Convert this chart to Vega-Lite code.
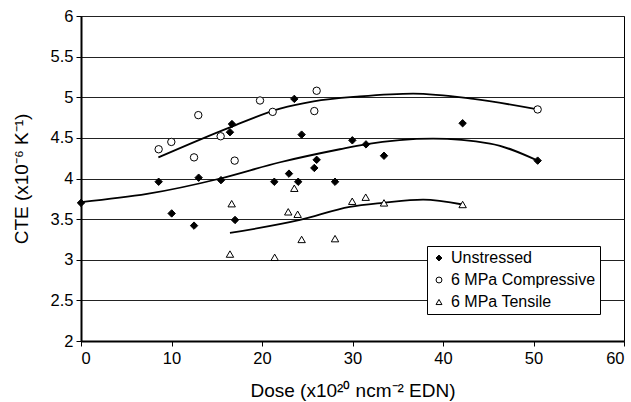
{
  "$schema": "https://vega.github.io/schema/vega-lite/v6.json",
  "width": 543,
  "height": 325,
  "autosize": "none",
  "padding": {"left": 81, "top": 16, "right": 7, "bottom": 61},
  "background": "white",
  "config": {
    "font": "Liberation Sans",
    "view": {"stroke": "black", "strokeWidth": 1}
  },
  "layer": [
    {
      "data": {"values": [
        {"series": "Unstressed", "x": 0, "y": 3.71},
        {"series": "Unstressed", "x": 7.3, "y": 3.81},
        {"series": "Unstressed", "x": 15.4, "y": 4.0},
        {"series": "Unstressed", "x": 22.0, "y": 4.2},
        {"series": "Unstressed", "x": 28.6, "y": 4.36},
        {"series": "Unstressed", "x": 31.4, "y": 4.42},
        {"series": "Unstressed", "x": 38.9, "y": 4.49},
        {"series": "Unstressed", "x": 45.2, "y": 4.43},
        {"series": "Unstressed", "x": 50.46, "y": 4.22},
        {"series": "6 MPa Compressive", "x": 8.55, "y": 4.26},
        {"series": "6 MPa Compressive", "x": 16.46, "y": 4.63},
        {"series": "6 MPa Compressive", "x": 22.0, "y": 4.86},
        {"series": "6 MPa Compressive", "x": 25.7, "y": 4.95},
        {"series": "6 MPa Compressive", "x": 30.8, "y": 5.01},
        {"series": "6 MPa Compressive", "x": 36.7, "y": 5.045},
        {"series": "6 MPa Compressive", "x": 43.35, "y": 4.98},
        {"series": "6 MPa Compressive", "x": 50.46, "y": 4.85},
        {"series": "6 MPa Tensile", "x": 16.46, "y": 3.33},
        {"series": "6 MPa Tensile", "x": 24.2, "y": 3.49},
        {"series": "6 MPa Tensile", "x": 29.7, "y": 3.65},
        {"series": "6 MPa Tensile", "x": 33.4, "y": 3.7},
        {"series": "6 MPa Tensile", "x": 37.8, "y": 3.74},
        {"series": "6 MPa Tensile", "x": 42.17, "y": 3.68}
      ]},
      "mark": {"type": "line", "interpolate": "monotone", "color": "black", "strokeWidth": 1.8},
      "encoding": {
        "x": {"field": "x", "type": "quantitative"},
        "y": {"field": "y", "type": "quantitative"},
        "detail": {"field": "series"}
      }
    },
    {
      "data": {"values": [
        {"series": "Unstressed", "x": 0, "y": 3.7},
        {"series": "Unstressed", "x": 8.58, "y": 3.96},
        {"series": "Unstressed", "x": 10.02, "y": 3.57},
        {"series": "Unstressed", "x": 12.49, "y": 3.42},
        {"series": "Unstressed", "x": 13.0, "y": 4.01},
        {"series": "Unstressed", "x": 15.47, "y": 3.98},
        {"series": "Unstressed", "x": 16.46, "y": 4.57},
        {"series": "Unstressed", "x": 16.68, "y": 4.67},
        {"series": "Unstressed", "x": 17.02, "y": 3.49},
        {"series": "Unstressed", "x": 21.36, "y": 3.96},
        {"series": "Unstressed", "x": 22.98, "y": 4.06},
        {"series": "Unstressed", "x": 23.57, "y": 4.98},
        {"series": "Unstressed", "x": 24.0, "y": 3.96},
        {"series": "Unstressed", "x": 24.38, "y": 4.54},
        {"series": "Unstressed", "x": 25.78, "y": 4.13},
        {"series": "Unstressed", "x": 26.04, "y": 4.23},
        {"series": "Unstressed", "x": 28.07, "y": 3.96},
        {"series": "Unstressed", "x": 29.98, "y": 4.47},
        {"series": "Unstressed", "x": 31.49, "y": 4.42},
        {"series": "Unstressed", "x": 33.48, "y": 4.28},
        {"series": "Unstressed", "x": 42.17, "y": 4.68},
        {"series": "Unstressed", "x": 50.46, "y": 4.22},
        {"series": "6 MPa Compressive", "x": 8.58, "y": 4.36},
        {"series": "6 MPa Compressive", "x": 9.98, "y": 4.45},
        {"series": "6 MPa Compressive", "x": 12.49, "y": 4.26},
        {"series": "6 MPa Compressive", "x": 12.96, "y": 4.78},
        {"series": "6 MPa Compressive", "x": 15.43, "y": 4.52},
        {"series": "6 MPa Compressive", "x": 16.98, "y": 4.22},
        {"series": "6 MPa Compressive", "x": 19.78, "y": 4.96},
        {"series": "6 MPa Compressive", "x": 21.18, "y": 4.82},
        {"series": "6 MPa Compressive", "x": 25.78, "y": 4.83},
        {"series": "6 MPa Compressive", "x": 26.04, "y": 5.08},
        {"series": "6 MPa Compressive", "x": 50.46, "y": 4.85},
        {"series": "6 MPa Tensile", "x": 16.46, "y": 3.07},
        {"series": "6 MPa Tensile", "x": 16.65, "y": 3.69},
        {"series": "6 MPa Tensile", "x": 21.4, "y": 3.03},
        {"series": "6 MPa Tensile", "x": 22.9, "y": 3.59},
        {"series": "6 MPa Tensile", "x": 23.57, "y": 3.88},
        {"series": "6 MPa Tensile", "x": 23.94, "y": 3.56},
        {"series": "6 MPa Tensile", "x": 24.38, "y": 3.25},
        {"series": "6 MPa Tensile", "x": 28.07, "y": 3.26},
        {"series": "6 MPa Tensile", "x": 29.97, "y": 3.72},
        {"series": "6 MPa Tensile", "x": 31.46, "y": 3.77},
        {"series": "6 MPa Tensile", "x": 33.48, "y": 3.7},
        {"series": "6 MPa Tensile", "x": 42.17, "y": 3.68}
      ]},
      "mark": {"type": "point", "filled": true, "strokeWidth": 1, "opacity": 1, "size": 55},
      "encoding": {
        "x": {
          "field": "x", "type": "quantitative",
          "scale": {"domain": [0, 60], "nice": false},
          "axis": {
            "title": "Dose (x10²⁰ ncm⁻² EDN)",
            "values": [0, 10, 20, 30, 40, 50, 60],
            "grid": false,
            "domainColor": "black", "domainWidth": 2,
            "tickColor": "black", "tickSize": 5, "tickWidth": 1,
            "labelFontSize": 16.5, "labelColor": "black", "labelPadding": 4,
            "titleFontSize": 19, "titleFontWeight": "normal", "titleColor": "black", "titlePadding": 15
          }
        },
        "y": {
          "field": "y", "type": "quantitative",
          "scale": {"domain": [2, 6], "nice": false, "zero": false},
          "axis": {
            "title": "CTE (x10⁻⁶ K⁻¹)",
            "values": [2, 2.5, 3, 3.5, 4, 4.5, 5, 5.5, 6],
            "format": "~g",
            "grid": true, "gridColor": "#222", "gridWidth": 1,
            "domainColor": "black", "domainWidth": 2,
            "tickColor": "black", "tickSize": 5, "tickWidth": 1,
            "labelFontSize": 16.5, "labelColor": "black", "labelPadding": 3,
            "titleFontSize": 19, "titleFontWeight": "normal", "titleColor": "black", "titlePadding": 19
          }
        },
        "shape": {
          "field": "series", "type": "nominal",
          "scale": {"domain": ["Unstressed", "6 MPa Compressive", "6 MPa Tensile"], "range": ["diamond", "circle", "triangle-up"]},
          "legend": {
            "title": null, "orient": "none", "legendX": 346, "legendY": 230,
            "strokeColor": "black", "fillColor": "white", "padding": 4,
            "labelFontSize": 16, "labelColor": "black", "symbolSize": 35,
            "symbolStrokeWidth": 1, "rowPadding": 6, "labelOffset": 4
          }
        },
        "fill": {
          "field": "series", "type": "nominal",
          "scale": {"domain": ["Unstressed", "6 MPa Compressive", "6 MPa Tensile"], "range": ["black", "white", "white"]},
          "legend": {
            "title": null, "orient": "none", "legendX": 346, "legendY": 230,
            "strokeColor": "black", "fillColor": "white", "padding": 4,
            "labelFontSize": 16, "labelColor": "black", "symbolSize": 35,
            "symbolStrokeWidth": 1, "rowPadding": 6, "labelOffset": 4
          }
        },
        "stroke": {
          "field": "series", "type": "nominal",
          "scale": {"domain": ["Unstressed", "6 MPa Compressive", "6 MPa Tensile"], "range": ["black", "black", "black"]},
          "legend": {
            "title": null, "orient": "none", "legendX": 346, "legendY": 230,
            "strokeColor": "black", "fillColor": "white", "padding": 4,
            "labelFontSize": 16, "labelColor": "black", "symbolSize": 35,
            "symbolStrokeWidth": 1, "rowPadding": 6, "labelOffset": 4
          }
        }
      }
    }
  ]
}
